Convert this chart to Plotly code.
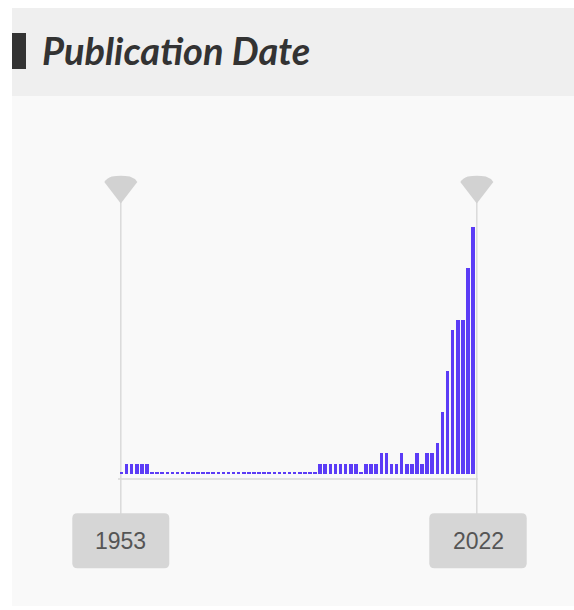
import plotly.graph_objects as go

# ---- data ----
years = list(range(1953, 2023))
counts = [0, 1, 1, 1, 1, 1] + [0] * 33 + [1] * 8 + [0,
          1, 1, 1, 2, 2, 1, 1, 2, 1, 1, 2, 1, 2, 2, 3,
          6, 10, 14, 15, 15, 20, 24]
range_labels = ["1953", "2022"]

W, H = 574, 610
BASE_PX = 474.0      # pixel row of value 0
UNIT_PX = 10.3       # pixels per count
X0_PX, X1_PX = 121.5, 473.0
px_per_year = (X1_PX - X0_PX) / (years[-1] - years[0])
xr = [years[0] - X0_PX / px_per_year, years[-1] + (W - X1_PX) / px_per_year]
yr = [-(H - BASE_PX) / UNIT_PX, BASE_PX / UNIT_PX]

shown = [c if c > 0 else 0.2 for c in counts]

def px(x):
    return x / W

def py(y):
    return 1 - y / H

def path_px(cmds):
    out = []
    for t in cmds.split():
        if "," in t:
            a, b = t.split(",")
            out.append(f"{float(a)/W:.5f},{1 - float(b)/H:.5f}")
        else:
            out.append(t)
    return " ".join(out)

fig = go.Figure()
fig.add_trace(go.Bar(
    x=years, y=shown, width=0.7,
    marker=dict(color="#5b3cf6", line=dict(width=0)),
    hoverinfo="skip",
))

shapes = []
shapes.append(dict(type="rect", xref="paper", yref="paper", layer="below",
                   x0=px(12), x1=px(574), y0=py(96), y1=py(606),
                   fillcolor="#f9f9f9", line=dict(width=0)))
shapes.append(dict(type="rect", xref="paper", yref="paper", layer="below",
                   x0=px(12), x1=px(574), y0=py(8), y1=py(96),
                   fillcolor="#efefef", line=dict(width=0)))
shapes.append(dict(type="rect", xref="paper", yref="paper",
                   x0=px(12), x1=px(26), y0=py(33), y1=py(69),
                   fillcolor="#333333", line=dict(width=0)))
shapes.append(dict(type="line", xref="paper", yref="paper", layer="below",
                   x0=px(118), x1=px(478), y0=py(479), y1=py(479),
                   line=dict(color="#e0e0e0", width=2)))

handle_px = [120.8, 476.8]
for hx in handle_px:
    shapes.append(dict(type="line", xref="paper", yref="paper", layer="below",
                       x0=px(hx), x1=px(hx), y0=py(200), y1=py(514),
                       line=dict(color="#dadada", width=1.5)))
    cmd = (f"M {hx-16.5},182 Q {hx-14},178 {hx-9},176.5 Q {hx},175 {hx+9},176.5 "
           f"Q {hx+14},178 {hx+16.5},182 L {hx},203.5 Z")
    shapes.append(dict(type="path", xref="paper", yref="paper",
                       path=path_px(cmd), fillcolor="#d2d2d2", line=dict(width=0)))

box_px = [(72.3, 169.3), (429.3, 526.7)]
annotations = []
for (x0, x1), lab in zip(box_px, range_labels):
    r = 5
    y0, y1 = 513.3, 568.3
    cmd = (f"M {x0+r},{y0} L {x1-r},{y0} Q {x1},{y0} {x1},{y0+r} "
           f"L {x1},{y1-r} Q {x1},{y1} {x1-r},{y1} L {x0+r},{y1} "
           f"Q {x0},{y1} {x0},{y1-r} L {x0},{y0+r} Q {x0},{y0} {x0+r},{y0} Z")
    shapes.append(dict(type="path", xref="paper", yref="paper",
                       path=path_px(cmd), fillcolor="#d6d6d6", line=dict(width=0)))
    annotations.append(dict(xref="paper", yref="paper", x=px((x0 + x1) / 2), y=py(541),
                            text=lab, showarrow=False, xanchor="center", yanchor="middle",
                            font=dict(family="Liberation Sans, Arial", size=23, color="#555555")))

annotations.append(dict(xref="paper", yref="paper", x=px(40), y=py(50),
                        text="Publication Date", showarrow=False,
                        xanchor="left", yanchor="middle",
                        font=dict(family="Lato", size=38, color="#333333",
                                  weight="bold", style="italic")))

fig.update_layout(
    width=W, height=H,
    margin=dict(l=0, r=0, t=0, b=0),
    paper_bgcolor="#ffffff", plot_bgcolor="rgba(0,0,0,0)",
    showlegend=False, bargap=0,
    xaxis=dict(range=xr, domain=[0, 1], visible=False, fixedrange=True),
    yaxis=dict(range=yr, domain=[0, 1], visible=False, fixedrange=True),
    shapes=shapes, annotations=annotations,
)

fig.write_html("out.html", config={"displayModeBar": False},
               post_script="document.body.style.margin='0px';document.body.style.overflow='hidden';")
